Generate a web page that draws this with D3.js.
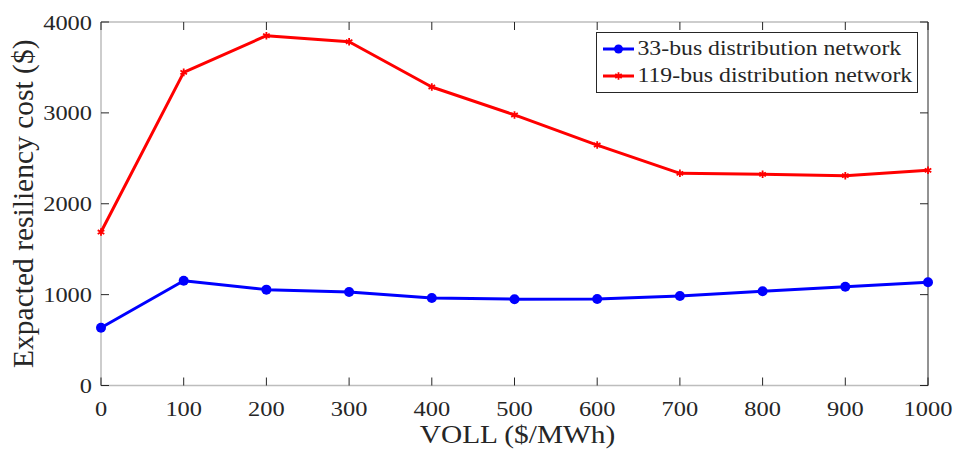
<!DOCTYPE html>
<html>
<head>
<meta charset="utf-8">
<script src="https://cdn.jsdelivr.net/npm/d3@7"></script>
<style>
  html, body { margin: 0; padding: 0; background: #fff; }
  svg { display: block; }
  text { font-family: "Liberation Serif", "Times New Roman", serif; fill: #262626; }
</style>
</head>
<body>
<svg id="chart" width="955" height="459"></svg>
<script>
// VOLL levels ($/MWh)
const voll = [0, 100, 200, 300, 400, 500, 600, 700, 800, 900, 1000];
// Expected resiliency cost ($) per network
const bus33 = [636, 1153, 1055, 1029, 963, 950, 952, 985, 1037, 1087, 1136];
const bus119 = [1689, 3446, 3849, 3783, 3285, 2977, 2646, 2335, 2324, 2309, 2368];
const xTicks = [0, 100, 200, 300, 400, 500, 600, 700, 800, 900, 1000];
const yTicks = [0, 1000, 2000, 3000, 4000];
const seriesNames = ["33-bus distribution network", "119-bus distribution network"];

const svg = d3.select("#chart");
const L = 101, R = 928, T = 22, B = 385.5;

const x = d3.scaleLinear().domain([0, 1000]).range([L, R]);
const y = d3.scaleLinear().domain([0, 4000]).range([B, T]);

const dark = "#262626", grey = "#bdbdbd";

// text helper: slightly wide serif lettering
function label(parent, tx, ty, str, size, anchor, sx) {
  return parent.append("text")
    .attr("transform", `translate(${tx},${ty}) scale(${sx},1)`)
    .attr("text-anchor", anchor).attr("font-size", size).text(str);
}

// frame
svg.append("line").attr("x1", L).attr("x2", R).attr("y1", T).attr("y2", T).attr("stroke", grey).attr("stroke-width", 1.5);
svg.append("line").attr("x1", L).attr("x2", R).attr("y1", B).attr("y2", B).attr("stroke", grey).attr("stroke-width", 1.5);
svg.append("line").attr("x1", L).attr("x2", L).attr("y1", T).attr("y2", B).attr("stroke", grey).attr("stroke-width", 1.5);
svg.append("line").attr("x1", R).attr("x2", R).attr("y1", T).attr("y2", B).attr("stroke", dark).attr("stroke-width", 1);

// inward ticks on all four sides
const tk = 8;
xTicks.forEach(v => {
  svg.append("line").attr("x1", x(v)).attr("x2", x(v)).attr("y1", B).attr("y2", B - tk).attr("stroke", dark);
  svg.append("line").attr("x1", x(v)).attr("x2", x(v)).attr("y1", T).attr("y2", T + tk).attr("stroke", dark);
});
yTicks.forEach(v => {
  svg.append("line").attr("x1", L).attr("x2", L + tk).attr("y1", y(v)).attr("y2", y(v)).attr("stroke", dark);
  svg.append("line").attr("x1", R).attr("x2", R - tk).attr("y1", y(v)).attr("y2", y(v)).attr("stroke", dark);
});

// tick labels
const gx = svg.append("g");
xTicks.forEach(v => label(gx, x(v), 416, v, 22, "middle", 1.11));
const gy = svg.append("g");
yTicks.forEach(v => label(gy, 92, y(v) + 7.5, v, 22, "end", 1.11));

// axis titles
label(svg, (L + R) / 2 + 3, 443, "VOLL ($/MWh)", 26, "middle", 1.13);
svg.append("text").attr("transform", `translate(33,${(T + B) / 2}) rotate(-90)`)
  .attr("text-anchor", "middle").attr("font-size", 29.5)
  .text("Expacted resiliency cost ($)");

const line = d3.line().x((d, i) => x(voll[i])).y(d => y(d));

// 119-bus series
svg.append("path").datum(bus119).attr("d", line)
  .attr("fill", "none").attr("stroke", "#ff0000").attr("stroke-width", 3).attr("stroke-linejoin", "round");
const star = d3.symbol().type(d3.symbolAsterisk).size(40);
svg.append("g").selectAll("path").data(bus119).join("path")
  .attr("transform", (d, i) => `translate(${x(voll[i])},${y(d)})`)
  .attr("d", star).attr("fill", "none").attr("stroke", "#ff0000").attr("stroke-width", 1.8);

// 33-bus series
svg.append("path").datum(bus33).attr("d", line)
  .attr("fill", "none").attr("stroke", "#0000ff").attr("stroke-width", 3).attr("stroke-linejoin", "round");
svg.append("g").selectAll("circle").data(bus33).join("circle")
  .attr("cx", (d, i) => x(voll[i])).attr("cy", d => y(d)).attr("r", 5)
  .attr("fill", "#0000ff");

// legend
const lg = svg.append("g");
lg.append("rect").attr("x", 596.5).attr("y", 32.5).attr("width", 321).attr("height", 60)
  .attr("fill", "#fff").attr("stroke", dark).attr("stroke-width", 1);
const colors = ["#0000ff", "#ff0000"];
seriesNames.forEach((name, i) => {
  const cy = 49 + i * 27;
  lg.append("line").attr("x1", 603).attr("x2", 634).attr("y1", cy).attr("y2", cy)
    .attr("stroke", colors[i]).attr("stroke-width", 3);
  if (i === 0) {
    lg.append("circle").attr("cx", 618.5).attr("cy", cy).attr("r", 4.5).attr("fill", colors[i]);
  } else {
    lg.append("path").attr("transform", `translate(618.5,${cy})`).attr("d", star)
      .attr("fill", "none").attr("stroke", colors[i]).attr("stroke-width", 1.8);
  }
  label(lg, 637.5, cy + 6, name, 22, "start", 1.08);
});
</script>
</body>
</html>
